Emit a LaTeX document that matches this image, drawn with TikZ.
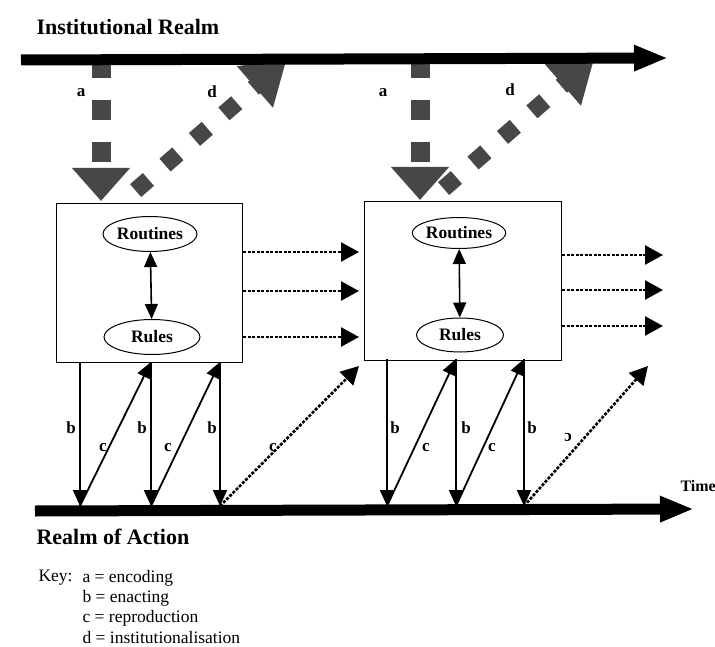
\documentclass[tikz,border=0pt]{standalone}
\usepackage{fontspec}
\setmainfont{Liberation Serif}
\usetikzlibrary{arrows.meta,shapes.geometric}

\tikzset{
  realm/.style={line width=11pt,-{Triangle[length=34pt,width=24pt]}},
  encode/.style={draw=black!72,line width=19pt,dash pattern=on 20pt off 22pt,-{Triangle[length=33pt,width=56pt]}},
  instit/.style={draw=black!72,line width=17pt,dash pattern=on 17pt off 22pt,-{Triangle[length=42pt,width=52pt]}},
  enact/.style={line width=1.8pt,-{Triangle[length=16pt,width=14pt]}},
  swap/.style={line width=1.6pt,{Triangle[length=15pt,width=13pt]}-{Triangle[length=15pt,width=13pt]}},
  carry/.style={line width=2.6pt,dash pattern=on 3pt off 1.5pt,-{Triangle[length=18pt,width=19pt]}},
  phase/.style={draw,line width=1pt,minimum height=158pt},
  oval/.style={draw,ellipse,line width=1pt,inner sep=0pt,font=\bfseries\fontsize{17.5}{17.5}\selectfont},
  tag/.style={font=\bfseries\fontsize{17}{17}\selectfont},
  keytext/.style={anchor=west,font=\fontsize{17.5}{17.5}\selectfont},
}

\begin{document}
\begin{tikzpicture}[x=1pt,y=-1pt]
	\useasboundingbox (0,0) rectangle (715,647);
	\node(instrealm) [anchor=west,font=\bfseries\fontsize{22}{22}\selectfont] at (33,27) {Institutional Realm};
	\node(actrealm) [anchor=west,font=\bfseries\fontsize{22}{22}\selectfont] at (33,537) {Realm of Action};
	\node(time) [anchor=west,font=\bfseries\fontsize{16}{16}\selectfont] at (677,486) {Time};
	% the two phases
	\node(box1) [phase,minimum width=186pt] at (149,283) {};
	\node(box2) [phase,minimum width=197pt] at (462.5,281) {};
	\node(routines1) [oval,minimum width=94pt,minimum height=35pt] at (150,234) {Routines};
	\node(rules1) [oval,minimum width=96pt,minimum height=35pt] at (152,337) {\raisebox{-5pt}{Rules}};
	\node(routines2) [oval,minimum width=90pt,minimum height=31pt] at (459,233) {Routines};
	\node(rules2) [oval,minimum width=87pt,minimum height=34pt] at (460,335) {\raisebox{-5pt}{Rules}};
	\draw[swap] (routines1) -- (rules1);
	\draw[swap] (routines2) -- (rules2);
	% encoding and institutionalisation
	\coordinate(a1top) at (101,58);
	\coordinate(a1bot) at (101,201);
	\coordinate(a2top) at (420,58);
	\coordinate(a2bot) at (420,200);
	\coordinate(d1bot) at (135.6,190.6);
	\coordinate(d1top) at (286.6,59.4);
	\coordinate(d2bot) at (443.6,188.6);
	\coordinate(d2top) at (594.6,57.4);
	\draw[encode] (a1top) -- (a1bot);
	\draw[encode] (a2top) -- (a2bot);
	\draw[instit] (d1bot) -- (d1top);
	\draw[instit] (d2bot) -- (d2top);
	\node(la1) [tag] at (81,93) {a};
	\node(ld1) [tag] at (212,92) {d};
	\node(la2) [tag] at (383,93) {a};
	\node(ld2) [tag] at (510,90) {d};
	% the two realms
	\coordinate(itop0) at (21,60);
	\coordinate(itop1) at (668,58);
	\coordinate(act0) at (35,511);
	\coordinate(act1) at (694,509);
	\draw[realm] (itop0) -- (itop1);
	\draw[realm] (act0) -- (act1);
	% carrying over to the next phase
	\coordinate(h11) at (243,252);
	\coordinate(h12) at (243,291);
	\coordinate(h13) at (243,337);
	\coordinate(h11e) at (359,252);
	\coordinate(h12e) at (359,291);
	\coordinate(h13e) at (359,337);
	\coordinate(h21) at (562,255);
	\coordinate(h22) at (562,290);
	\coordinate(h23) at (562,326);
	\coordinate(h21e) at (663,255);
	\coordinate(h22e) at (663,290);
	\coordinate(h23e) at (663,326);
	\draw[carry] (h11) -- (h11e);
	\draw[carry] (h12) -- (h12e);
	\draw[carry] (h13) -- (h13e);
	\draw[carry] (h21) -- (h21e);
	\draw[carry] (h22) -- (h22e);
	\draw[carry] (h23) -- (h23e);
	% enacting and reproduction
	\coordinate(b11) at (80,362);
	\coordinate(b12) at (151,362);
	\coordinate(b13) at (220,362);
	\coordinate(g11) at (80,506);
	\coordinate(g12) at (151,506);
	\coordinate(g13) at (220,506);
	\coordinate(b21) at (387,359);
	\coordinate(b22) at (456,359);
	\coordinate(b23) at (524,359);
	\coordinate(g21) at (387,506);
	\coordinate(g22) at (456,506);
	\coordinate(g23) at (524,506);
	\draw[enact] (b11) -- (g11);
	\draw[enact] (b12) -- (g12);
	\draw[enact] (b13) -- (g13);
	\draw[enact] (b21) -- (g21);
	\draw[enact] (b22) -- (g22);
	\draw[enact] (b23) -- (g23);
	\draw[enact] (g11) -- (b12);
	\draw[enact] (g12) -- (b13);
	\draw[enact] (g21) -- (b22);
	\draw[enact] (g22) -- (b23);
	\coordinate(c1end) at (359,366);
	\coordinate(c2end) at (648,366);
	\draw[carry] (g13) -- (c1end);
	\draw[carry] (g23) -- (c2end);
	\node(lb11) [tag] at (71,428) {b};
	\node(lb12) [tag] at (142,428) {b};
	\node(lb13) [tag] at (212,428) {b};
	\node(lb21) [tag] at (395,428) {b};
	\node(lb22) [tag] at (466,428) {b};
	\node(lb23) [tag] at (532,428) {b};
	\node(lc11) [tag] at (103,448) {c};
	\node(lc12) [tag] at (168,448) {c};
	\node(lc13) [tag] at (273,448) {c};
	\node(lc21) [tag] at (426,448) {c};
	\node(lc22) [tag] at (492,448) {c};
	\node(lc23) [tag,rotate=180] at (568,437) {c};
	% key
	\node(key) [keytext] at (35,578) {Key:};
	\node(keya) [keytext] at (79,578) {a = encoding};
	\node(keyb) [keytext] at (79,598) {b = enacting};
	\node(keyc) [keytext] at (79,618) {c = reproduction};
	\node(keyd) [keytext] at (79,638) {d = institutionalisation};
\end{tikzpicture}
\end{document}
